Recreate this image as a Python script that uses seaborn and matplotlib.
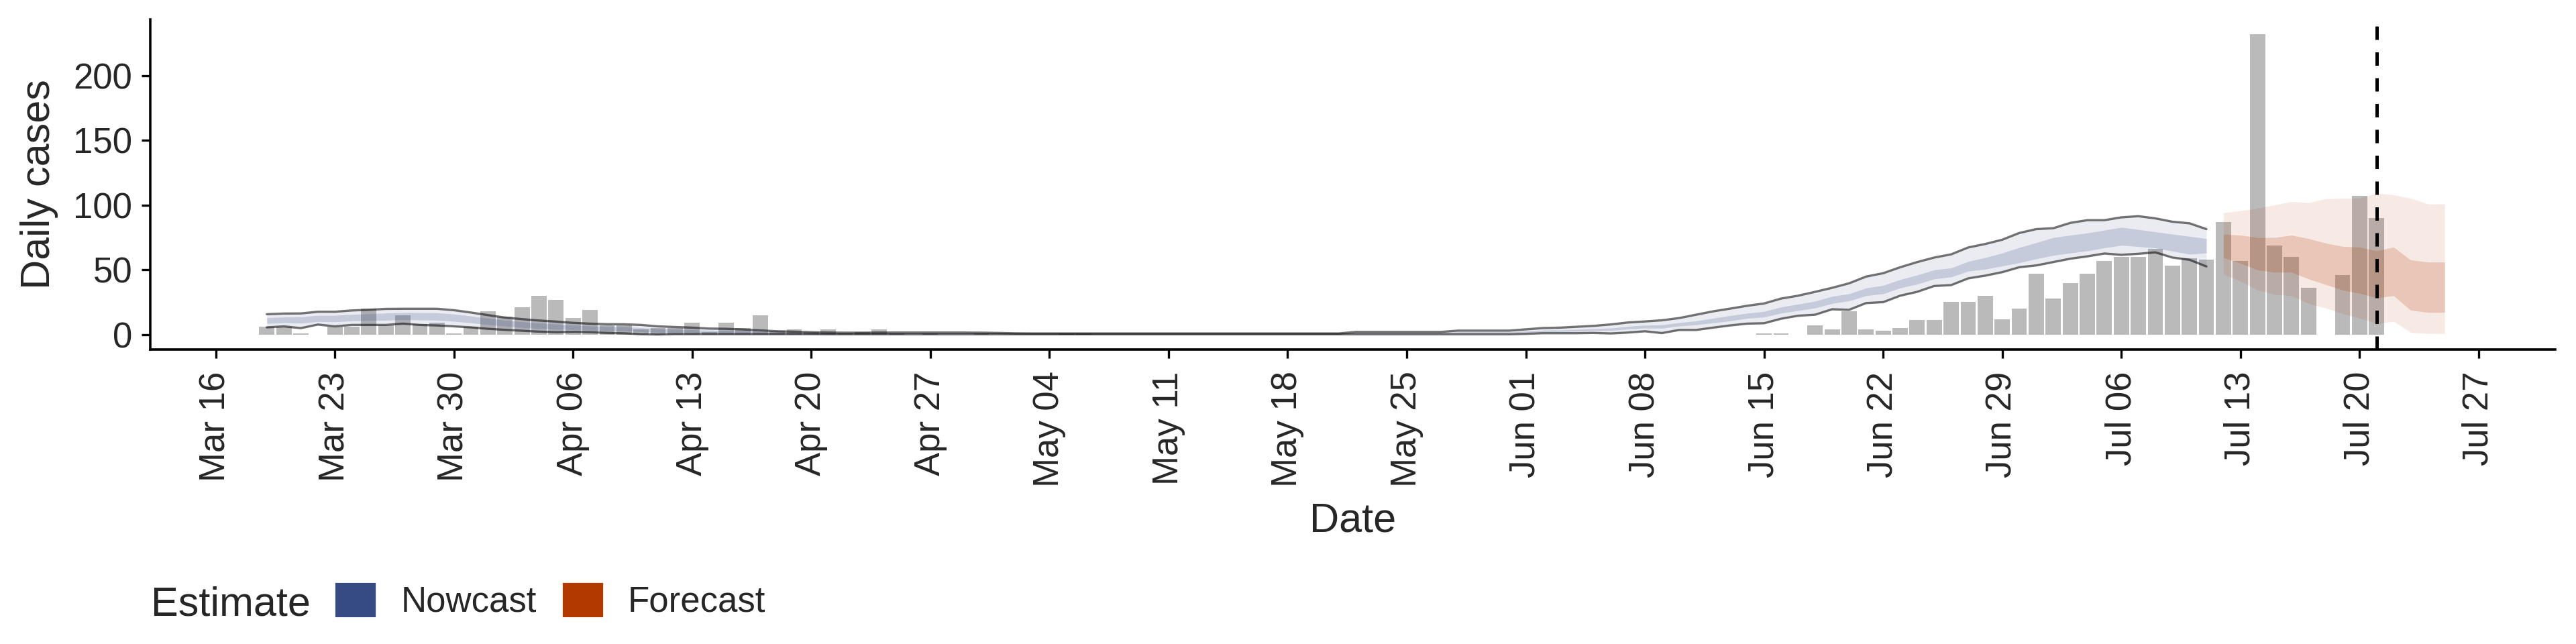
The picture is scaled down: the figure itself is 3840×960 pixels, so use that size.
import pandas as pd
import matplotlib
matplotlib.use('Agg')
import matplotlib.pyplot as plt
import matplotlib.dates as mdates
from matplotlib.patches import Patch
import seaborn as sns

sns.set_style('ticks')
plt.rcParams['font.family'] = ['Liberation Sans', 'DejaVu Sans']

NOWCAST = '#354B82'
FORECAST = '#B23A00'

# reported daily cases, Mar 19 -> Jul 21
cases_mar = [6, 6, 1, 0, 6, 6, 20, 7, 15, 8, 9, 1, 6]
cases_apr = [18, 14, 21, 30, 27, 13, 19, 7, 7, 4, 5, 5, 9, 2, 9, 5, 15, 3, 4, 2,
             4, 1, 2, 4, 1, 0, 1, 0, 0, 1]
cases_may = [0, 0, 0, 0, 1, 1, 0, 0, 0, 0, 0, 0, 0, 0, 0, 0, 0, 0, 0, 0,
             0, 0, 0, 0, 0, 0, 0, 0, 0, 0, 0]
cases_jun = [0, 0, 0, 0, 0, 0, 0, 0, 0, 0, 0, 0, 0, 0, 1, 1, 0, 7, 4, 18,
             4, 3, 5, 11, 11, 25, 25, 30, 12, 20]
cases_jul = [47, 28, 40, 47, 57, 60, 60, 66, 53, 59, 58, 87, 57, 232, 69, 60, 36, 0, 46, 107, 90]
cases = cases_mar + cases_apr + cases_may + cases_jun + cases_jul

# nowcast credible intervals, Mar 19 -> Jul 11 (one row per month)
now_upper90 = (
    [15.7, 16.2, 16.3, 17.6, 17.6, 18.6, 19.1, 19.8, 19.9, 19.9, 19.9, 18.8, 17.0]
    + [15.0, 13.1, 11.9, 10.8, 10.0, 9.0, 8.4, 8.0, 7.9, 7.4, 6.3, 5.8, 5.3, 4.6, 4.4,
       3.9, 3.2, 2.5, 2.2, 1.8, 1.5, 1.4, 1.4, 1.5, 1.5, 1.5, 1.5, 1.5, 1.5, 1.4]
    + [1.2, 0.9, 0.8, 0.8, 0.8, 0.8, 0.8, 0.8, 0.8, 0.8, 0.8, 0.8, 0.8, 0.8, 0.8,
       0.8, 0.8, 0.8, 0.8, 0.8, 0.8, 2.0, 2.0, 2.0, 2.0, 2.0, 2.0, 3.0, 3.0, 3.0, 3.0]
    + [4.0, 5.0, 5.3, 6.0, 6.7, 7.8, 9.3, 10.1, 11.0, 12.7, 15.3, 17.9, 20.0, 22.2, 24.0,
       27.8, 30.0, 33.0, 36.1, 39.6, 44.8, 47.4, 52.0, 56.0, 59.5, 62.0, 67.3, 70.0, 73.3, 78.5]
    + [81.5, 82.2, 86.3, 88.4, 88.4, 90.6, 91.5, 89.8, 87.2, 86.0, 81.5]
)
now_lower90 = (
    [5.5, 6.3, 4.9, 7.7, 6.3, 7.4, 7.4, 7.4, 8.4, 7.4, 7.0, 6.3, 5.5]
    + [4.4, 3.6, 2.9, 2.2, 1.8, 2.0, 1.8, 1.2, 0.9, 0.2, 0.0, 0.3, 0.3, 0.3, 0.3,
       0.3, 0.3, 0.3, 0.3, 0.3, 0.2, 0.2, 0.2, 0.2, 0.2, 0.2, 0.2, 0.2, 0.2, 0.2]
    + [0.2, 0.2, 0.2, 0.2, 0.2, 0.2, 0.2, 0.2, 0.2, 0.2, 0.2, 0.2, 0.2, 0.2, 0.2,
       0.2, 0.2, 0.2, 0.2, 0.2, 0.2, 0.2, 0.2, 0.2, 0.2, 0.2, 0.2, 0.2, 0.2, 0.2, 0.2]
    + [0.5, 1.0, 1.0, 1.0, 1.2, 0.8, 1.5, 2.5, 1.1, 3.5, 3.5, 5.3, 7.0, 8.4, 8.7,
       12.2, 14.5, 15.3, 19.5, 19.1, 24.3, 25.0, 30.0, 33.0, 37.5, 38.2, 43.4, 45.5, 48.2, 52.0]
    + [53.4, 56.0, 58.6, 60.4, 62.6, 61.6, 62.4, 63.5, 59.5, 57.8, 52.6]
)
now_upper50 = (
    [13.0, 13.5, 13.7, 14.8, 14.8, 15.6, 16.0, 16.6, 17.0, 16.9, 16.8, 15.8, 14.3]
    + [12.5, 11.0, 9.8, 8.8, 8.0, 7.3, 6.6, 6.1, 5.9, 5.3, 4.4, 4.1, 3.7, 3.3, 3.1,
       2.8, 2.3, 1.9, 1.6, 1.3, 1.1, 1.0, 1.0, 1.0, 1.0, 1.0, 1.0, 1.0, 1.0, 1.0]
    + [0.9, 0.6, 0.6, 0.6, 0.6, 0.6, 0.6, 0.6, 0.6, 0.6, 0.6, 0.6, 0.6, 0.6, 0.6,
       0.6, 0.6, 0.6, 0.6, 0.6, 0.6, 1.3, 1.3, 1.3, 1.3, 1.3, 1.3, 2.0, 2.0, 2.0, 2.0]
    + [2.6, 3.3, 3.5, 4.0, 4.5, 5.0, 6.3, 7.2, 7.5, 9.2, 10.5, 12.6, 14.6, 16.5, 17.8,
       21.3, 23.5, 25.8, 29.5, 31.5, 36.0, 38.0, 42.5, 46.0, 50.0, 51.5, 56.5, 59.5, 63.0, 67.3]
    + [71.0, 75.0, 76.8, 78.5, 80.7, 82.9, 81.2, 79.4, 77.6, 75.9, 74.2]
)
now_lower50 = (
    [8.5, 9.0, 8.8, 10.0, 9.8, 10.5, 10.8, 11.0, 11.5, 11.2, 11.0, 10.2, 9.0]
    + [7.6, 6.5, 5.4, 4.6, 4.0, 3.8, 3.4, 2.9, 2.7, 2.2, 1.7, 1.7, 1.5, 1.4, 1.3,
       1.1, 1.0, 0.8, 0.7, 0.6, 0.5, 0.5, 0.5, 0.5, 0.5, 0.5, 0.5, 0.5, 0.5, 0.5]
    + [0.4, 0.3, 0.3, 0.3, 0.3, 0.3, 0.3, 0.3, 0.3, 0.3, 0.3, 0.3, 0.3, 0.3, 0.3,
       0.3, 0.3, 0.3, 0.3, 0.3, 0.3, 0.7, 0.7, 0.7, 0.7, 0.7, 0.7, 1.1, 1.1, 1.1, 1.1]
    + [1.5, 2.2, 2.3, 2.6, 3.0, 3.2, 4.2, 5.0, 4.8, 6.5, 7.5, 9.0, 10.5, 12.5, 13.5,
       16.5, 18.5, 20.5, 24.0, 26.0, 30.0, 31.5, 36.0, 39.0, 43.0, 44.5, 49.0, 50.5, 53.0, 55.5]
    + [58.5, 61.2, 63.0, 64.7, 67.0, 69.0, 68.0, 66.9, 64.5, 62.1, 63.0]
)

# forecast credible intervals, Jul 12 -> Jul 25
fc_upper90 = [94.1, 95.8, 97.6, 100.2, 102.8, 101.9, 105.0, 105.4, 105.4, 109.3, 108.0, 105.4, 101.0, 101.0]
fc_upper50 = [77.6, 76.8, 75.0, 75.0, 76.8, 74.2, 70.7, 68.1, 67.6, 64.7, 67.6, 57.7, 56.0, 56.0]
fc_lower50 = [59.4, 55.1, 49.9, 48.2, 48.2, 43.0, 38.7, 34.4, 31.8, 28.3, 30.0, 18.8, 17.1, 17.1]
fc_lower90 = [46.5, 41.3, 34.4, 30.9, 30.0, 24.0, 20.5, 16.2, 12.8, 8.4, 10.2, 1.6, 0.7, 0.7]

report_date = pd.Timestamp('2020-07-21')

case_dates = pd.date_range('2020-03-19', periods=len(cases), freq='D')
now_dates = pd.date_range('2020-03-19', periods=len(now_upper90), freq='D')
fc_dates = pd.date_range('2020-07-12', periods=len(fc_upper90), freq='D')

fig = plt.figure(figsize=(19.2, 4.8), dpi=200)
ax = fig.add_axes([224 / 3840, 1 - 521 / 960, 3585 / 3840, 492 / 960])

ax.bar(case_dates, cases, width=0.9, color='#BABABA', lw=0, zorder=1)

ax.fill_between(now_dates, now_lower90, now_upper90, color=NOWCAST, alpha=0.1, lw=0, zorder=2)
ax.fill_between(now_dates, now_lower50, now_upper50, color=NOWCAST, alpha=0.2, lw=0, zorder=2)
ax.fill_between(fc_dates, fc_lower90, fc_upper90, color=FORECAST, alpha=0.1, lw=0, zorder=2)
ax.fill_between(fc_dates, fc_lower50, fc_upper50, color=FORECAST, alpha=0.2, lw=0, zorder=2)

sns.lineplot(x=now_dates, y=now_upper90, color='black', alpha=0.55, lw=1.2, ax=ax, zorder=3)
sns.lineplot(x=now_dates, y=now_lower90, color='black', alpha=0.55, lw=1.2, ax=ax, zorder=3)

ax.axvline(report_date, color='black', lw=1.8, ls=(0, (4, 3.7)), zorder=4)

ax.set_xlim(pd.Timestamp('2020-03-16') - pd.Timedelta(days=3.85),
            pd.Timestamp('2020-03-16') + pd.Timedelta(days=137.5))
ax.set_ylim(-11.6, 243.6)
ax.set_xticks(pd.date_range('2020-03-16', '2020-07-27', freq='7D'))
ax.xaxis.set_major_formatter(mdates.DateFormatter('%b %d'))
ax.set_yticks([0, 50, 100, 150, 200])
ax.tick_params(axis='x', labelsize=19, rotation=90, length=4.7, width=1.2, pad=7, color='black')
ax.tick_params(axis='y', labelsize=19, length=4.7, width=1.2, pad=5, color='black')
for s in ['left', 'bottom']:
    ax.spines[s].set_linewidth(1.3)
    ax.spines[s].set_color('black')
sns.despine(ax=ax)

ax.set_xlabel('Date', fontsize=22, labelpad=8)
ax.set_ylabel('Daily cases', fontsize=22, labelpad=8)

# legend along the bottom
fig.text(225 / 3840, 1 - 918 / 960, 'Estimate', fontsize=22, va='baseline', ha='left')
handles = [Patch(facecolor=NOWCAST, label='Nowcast'), Patch(facecolor=FORECAST, label='Forecast')]
fig.legend(handles=handles, loc='center left', bbox_to_anchor=(498 / 3840, 1 - 895 / 960),
           ncol=2, frameon=False, fontsize=19, handlelength=1.2, handleheight=1.2,
           handletextpad=0.68, columnspacing=0.7, borderpad=0, borderaxespad=0)

fig.savefig('out.png', dpi=200)
